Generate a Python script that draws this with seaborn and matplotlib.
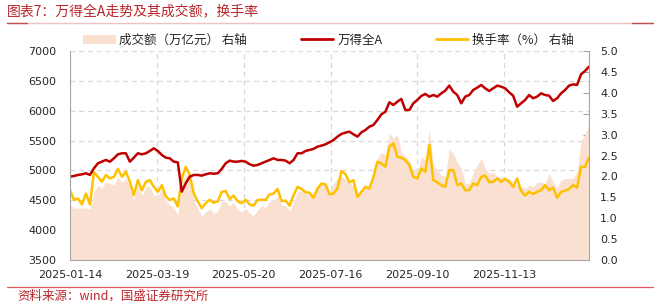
import numpy as np
import pandas as pd
import matplotlib
matplotlib.use("Agg")
import matplotlib.pyplot as plt
import seaborn as sns
from matplotlib.lines import Line2D
from matplotlib.patches import Patch
from matplotlib.font_manager import FontProperties

# ---------------- data ----------------
tick_labels = ["2025-01-14", "2025-03-19", "2025-05-20", "2025-07-16", "2025-09-10", "2025-11-13"]
tick_days = [0, 42, 84, 126, 168, 210]      # trading-day offsets of the tick labels
total_days = 251                            # trading days covered by the chart

wind_a = [4896, 4907, 4924, 4935, 4952, 4924, 5036, 5120, 5147, 5175, 5147, 5203, 5270, 5287, 5287, 5147,
          5214, 5287, 5270, 5287, 5326, 5371, 5326, 5259, 5214, 5203, 5147, 5136, 4645, 4785, 4896, 4924,
          4924, 4913,
          4935, 4952, 4945, 4952, 5025, 5120, 5164, 5147, 5147, 5159, 5147, 5103, 5080, 5092, 5120, 5147,
          5175, 5203, 5175, 5175, 5164, 5120, 5175, 5287, 5287, 5326, 5343, 5360, 5399, 5415, 5438, 5471,
          5510, 5566, 5611, 5633, 5650, 5605, 5566, 5638, 5677, 5733, 5761, 5845, 5940, 5984, 6141, 6096,
          6152, 6197, 6012, 6012, 6124, 6180, 6247, 6280, 6236, 6263, 6236, 6291, 6336, 6420, 6319, 6263,
          6124,
          6236, 6263, 6347, 6386, 6431, 6375, 6330, 6375, 6420, 6403, 6375, 6308, 6252, 6068, 6124, 6180,
          6263, 6208, 6236, 6291, 6263, 6252, 6163, 6208, 6291, 6347, 6420, 6442, 6431, 6610, 6665, 6738]

turnover_rate = [1.67, 1.44, 1.47, 1.33, 1.59, 1.33, 2.10, 1.99, 1.87, 2.03, 1.95, 1.99, 2.18, 1.99, 2.11, 1.87,
                 1.55, 1.91, 1.67, 1.87, 1.91, 1.75, 1.63, 1.79, 1.52, 1.44, 1.47, 1.28, 1.95, 2.23, 2.03, 1.59,
                 1.40, 1.24,
                 1.36, 1.44, 1.37, 1.40, 1.63, 1.65, 1.46, 1.54, 1.40, 1.36, 1.44, 1.33, 1.30, 1.44, 1.44, 1.44,
                 1.57, 1.59, 1.70, 1.41, 1.42, 1.30, 1.55, 1.75, 1.70, 1.62, 1.61, 1.49, 1.71, 1.83, 1.81, 1.57,
                 1.59, 1.71, 2.13, 2.05, 1.86, 1.91, 1.51, 1.63, 1.75, 1.71, 1.99, 2.35, 2.31, 2.23, 2.71, 2.79,
                 2.47, 2.45, 2.39, 2.27, 1.99, 1.95, 2.19, 2.11, 2.75, 1.91, 1.86, 1.79, 1.75, 2.15, 2.15, 1.79,
                 1.83,
                 1.67, 1.67, 1.83, 1.79, 1.99, 2.02, 1.86, 1.87, 1.95, 1.87, 1.94, 1.87, 1.75, 1.95, 1.65, 1.54,
                 1.63, 1.58, 1.63, 1.67, 1.79, 1.67, 1.73, 1.49, 1.63, 1.66, 1.70, 1.79, 1.73, 2.23, 2.23, 2.45]

turnover_amount = [1.32, 1.24, 1.24, 1.25, 1.24, 1.22, 1.63, 1.79, 1.73, 1.87, 1.83, 1.79, 1.99, 1.86, 1.95, 1.75,
                   1.44, 1.79, 1.55, 1.75, 1.75, 1.55, 1.54, 1.70, 1.40, 1.32, 1.24, 1.08, 1.79, 2.07, 1.87, 1.40,
                   1.24, 1.04,
                   1.16, 1.22, 1.12, 1.16, 1.41, 1.40, 1.30, 1.38, 1.20, 1.16, 1.24, 1.12, 1.06, 1.20, 1.30, 1.25,
                   1.40, 1.41, 1.54, 1.32, 1.30, 1.17, 1.38, 1.63, 1.65, 1.59, 1.55, 1.51, 1.75, 1.83, 1.83, 1.63,
                   1.83, 1.95, 1.99, 1.94, 1.83, 1.79, 1.55, 1.63, 1.75, 1.81, 2.07, 2.43, 2.58, 2.51, 3.05, 2.91,
                   3.01, 2.58, 2.47, 2.39, 2.15, 2.11, 2.47, 2.39, 3.11, 2.27, 2.15, 2.03, 1.99, 2.66, 2.55, 2.35,
                   2.19,
                   1.83, 1.83, 2.07, 2.27, 2.43, 2.19, 2.07, 2.10, 1.99, 1.99, 1.97, 1.95, 1.87, 1.79, 1.75, 1.71,
                   1.79, 1.75, 1.86, 1.87, 1.83, 2.07, 1.87, 1.71, 1.91, 1.95, 1.95, 1.95, 2.11, 2.83, 3.00, 3.25]

label_amount = "成交额（万亿元） 右轴"
label_index = "万得全A"
label_rate = "换手率（%） 右轴"
title = "图表7：万得全A走势及其成交额，换手率"
source = "资料来源：wind，国盛证券研究所"

# ---------------- styling ----------------
RED = "#C00000"
YELLOW = "#FFC000"
AREA = "#F9E0D1"
GRID = "#D9D9D9"
SPINE = "#A6A6A6"
TXT = "#262626"
TITLE_RED = "#B8262B"

sns.set_style("white")
plt.rcParams["font.family"] = ["DejaVu Sans", "Noto Sans CJK SC"]
cjk = ["Noto Sans CJK SC", "DejaVu Sans"]

n = len(wind_a)
df = pd.DataFrame({
    "day": np.linspace(0, total_days, n),
    "wind_a": wind_a,
    "rate": turnover_rate,
    "amount": turnover_amount,
})

fig = plt.figure(figsize=(6.61, 3.01), dpi=100)
rect = [70 / 661, 1 - 260 / 301, (589 - 70) / 661, (260 - 51) / 301]

# bottom layer: grid only
ax = fig.add_axes(rect)
ax.set_xlim(0, total_days)
ax.set_ylim(3500, 7000)
ax.set_xticks(tick_days)
ax.set_yticks(np.arange(3500, 7001, 500))
ax.grid(True, linestyle=(0, (4, 3)), color=GRID, linewidth=0.9)
ax.tick_params(length=0, labelleft=False, labelbottom=False)
for s in ax.spines.values():
    s.set_visible(False)

# middle layer: right axis, amount area + turnover rate
ax2 = ax.twinx()
ax2.set_ylim(0, 5)
ax2.fill_between(df["day"], 0, df["amount"], color=AREA, linewidth=0, zorder=1)
sns.lineplot(data=df, x="day", y="rate", ax=ax2, color=YELLOW, linewidth=1.8, zorder=2)
ax2.set_ylabel("")
ax2.set_yticks(np.arange(0, 5.01, 0.5))
ax2.set_yticklabels([f"{v:.1f}" for v in np.arange(0, 5.01, 0.5)])
ax2.tick_params(axis="y", direction="in", length=4, color=SPINE, labelsize=8, labelcolor=TXT, pad=8)
for k, s in ax2.spines.items():
    s.set_visible(k == "right")
ax2.spines["right"].set_color(SPINE)

# top layer: index line + left/bottom axes
ax3 = fig.add_axes(rect, sharex=ax, sharey=ax)
ax3.patch.set_visible(False)
sns.lineplot(data=df, x="day", y="wind_a", ax=ax3, color=RED, linewidth=1.8)
ax3.set_xlabel("")
ax3.set_ylabel("")
ax3.set_xlim(0, total_days)
ax3.set_ylim(3500, 7000)
ax3.set_xticks(tick_days)
ax3.set_xticklabels(tick_labels)
ax3.set_yticks(np.arange(3500, 7001, 500))
ax3.grid(False)
ax3.tick_params(axis="both", direction="in", length=4, color=SPINE, labelsize=8, labelcolor=TXT)
ax3.tick_params(axis="y", pad=10)
ax3.tick_params(axis="x", pad=7)
for k, s in ax3.spines.items():
    s.set_visible(k in ("left", "bottom"))
    s.set_color(SPINE)

# legend
handles = [
    Patch(facecolor=AREA, edgecolor="none", label=label_amount),
    Line2D([], [], color=RED, linewidth=2, label=label_index),
    Line2D([], [], color=YELLOW, linewidth=2, label=label_rate),
]
fig.legend(handles=handles, ncol=3, loc="center", bbox_to_anchor=(0.497, 1 - 40 / 301),
           frameon=False, prop=FontProperties(family=cjk, size=9), handlelength=2.6,
           handletextpad=0.3, columnspacing=4.3, labelcolor=TXT)

# title, rules and source
fig.text(7 / 661, 1 - 11 / 301, title, color=TITLE_RED, fontsize=10, style="italic",
         va="center", ha="left", family=cjk)
y_rule = 1 - 23 / 301
fig.add_artist(Line2D([7 / 661, 653 / 661], [y_rule, y_rule], transform=fig.transFigure,
                      color="#EFC3C3", linewidth=1.0))
fig.add_artist(Line2D([7 / 661, 27 / 661], [y_rule, y_rule], transform=fig.transFigure,
                      color="#C0504D", linewidth=1.0))
fig.add_artist(Line2D([632 / 661, 653 / 661], [y_rule, y_rule], transform=fig.transFigure,
                      color="#C0504D", linewidth=1.0))
y_bot = 1 - 287 / 301
fig.add_artist(Line2D([7 / 661, 653 / 661], [y_bot, y_bot], transform=fig.transFigure,
                      color="#E0595E", linewidth=0.9))
fig.text(17 / 661, 1 - 296 / 301, source, color=TITLE_RED, fontsize=9, style="italic",
         va="center", ha="left", family=cjk)

fig.savefig("out.png", dpi=100)
